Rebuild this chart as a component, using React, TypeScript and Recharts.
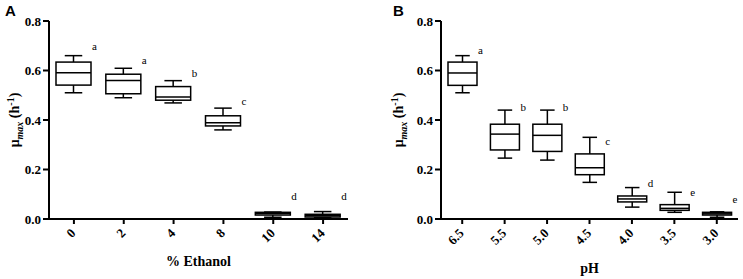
import { ComposedChart, Bar, XAxis, YAxis } from "recharts";

// panel A: growth rate vs ethanol
const ethanolCats = ["0", "2", "4", "8", "10", "14"];
const ethanolMin = [0.51, 0.49, 0.469, 0.36, 0.007, 0.006];
const ethanolQ1 = [0.541, 0.506, 0.48, 0.376, 0.016, 0.008];
const ethanolMed = [0.591, 0.56, 0.493, 0.389, 0.022, 0.013];
const ethanolQ3 = [0.634, 0.585, 0.535, 0.417, 0.027, 0.019];
const ethanolMax = [0.66, 0.609, 0.559, 0.448, 0.028, 0.03];
const ethanolLetters = ["a", "a", "b", "c", "d", "d"];
const ethanolLetterY = [0.699, 0.642, 0.591, 0.477, 0.093, 0.093];

// panel B: growth rate vs pH
const phCats = ["6.5", "5.5", "5.0", "4.5", "4.0", "3.5", "3.0"];
const phMin = [0.51, 0.246, 0.238, 0.148, 0.048, 0.027, 0.007];
const phQ1 = [0.54, 0.279, 0.273, 0.179, 0.069, 0.035, 0.016];
const phMed = [0.59, 0.343, 0.338, 0.207, 0.081, 0.043, 0.021];
const phQ3 = [0.634, 0.383, 0.383, 0.263, 0.093, 0.058, 0.027];
const phMax = [0.66, 0.44, 0.44, 0.33, 0.127, 0.108, 0.029];
const phLetters = ["a", "b", "b", "c", "d", "e", "e"];
const phLetterY = [0.683, 0.45, 0.45, 0.316, 0.145, 0.11, 0.081];

const yTicks = [0, 0.2, 0.4, 0.6, 0.8];

const SERIF = "'Liberation Serif', 'Times New Roman', serif";

const buildRows = (
  cats: string[],
  mins: number[],
  q1s: number[],
  meds: number[],
  q3s: number[],
  maxs: number[],
  letters: string[],
  letterYs: number[]
) =>
  cats.map((cat, i) => ({
    cat,
    min: mins[i],
    q1: q1s[i],
    med: meds[i],
    q3: q3s[i],
    max: maxs[i],
    letter: letters[i],
    letterY: letterYs[i],
  }));

const ethanolRows = buildRows(ethanolCats, ethanolMin, ethanolQ1, ethanolMed, ethanolQ3, ethanolMax, ethanolLetters, ethanolLetterY);
const phRows = buildRows(phCats, phMin, phQ1, phMed, phQ3, phMax, phLetters, phLetterY);

// the bar spans min..max, so its own height gives the value->pixel ratio
const BoxShape = (props: any) => {
  const { x, y, width, height, payload } = props;
  const { min, q1, med, q3, max, letter, letterY } = payload;
  const k = height / (max - min);
  const py = (v: number) => y + (max - v) * k;
  const cx = x + width / 2;
  const cap = width / 4;
  const st = { stroke: "#000", strokeWidth: 1.5 };
  return (
    <g>
      <line x1={cx} x2={cx} y1={py(max)} y2={py(q3)} {...st} />
      <line x1={cx} x2={cx} y1={py(q1)} y2={py(min)} {...st} />
      <line x1={cx - cap} x2={cx + cap} y1={py(max)} y2={py(max)} {...st} />
      <line x1={cx - cap} x2={cx + cap} y1={py(min)} y2={py(min)} {...st} />
      <rect x={x} y={py(q3)} width={width} height={py(q1) - py(q3)} fill="#fff" {...st} />
      <line x1={x} x2={x + width} y1={py(med)} y2={py(med)} {...st} />
      <text x={x + width + 1} y={py(letterY)} dy="0.35em" fontFamily={SERIF} fontSize={11} fill="#000">
        {letter}
      </text>
    </g>
  );
};

const SlantTick = (props: any) => {
  const { x, y, payload } = props;
  const tx = x + 2.5;
  const ty = y + 10;
  return (
    <text
      x={tx}
      y={ty}
      textAnchor="end"
      transform={`rotate(-45, ${tx}, ${ty})`}
      fontFamily={SERIF}
      fontWeight="bold"
      fontSize={13}
      fill="#000"
    >
      {payload.value}
    </text>
  );
};

const yLabel = (labelX: number) => (props: any) => {
  const vb = props.viewBox || { x: 0, y: 21, width: 0, height: 198 };
  const cx = vb.x + labelX;
  const cy = vb.y + vb.height / 2;
  return (
    <text
      x={cx}
      y={cy}
      textAnchor="middle"
      transform={`rotate(-90, ${cx}, ${cy})`}
      fontFamily={SERIF}
      fontWeight="bold"
      fontSize={14}
      fill="#000"
    >
      μ
      <tspan fontStyle="italic" fontSize={10} dy={4}>max</tspan>
      <tspan dy={-4}> (h</tspan>
      <tspan fontSize={10} dy={-5}>-1</tspan>
      <tspan dy={5}>)</tspan>
    </text>
  );
};

const xLabel = (text: string, offset: number) => (props: any) => {
  const vb = props.viewBox || { x: 0, y: 219, width: 300, height: 60 };
  return (
    <text
      x={vb.x + vb.width / 2}
      y={vb.y + offset}
      textAnchor="middle"
      fontFamily={SERIF}
      fontWeight="bold"
      fontSize={14}
      fill="#000"
    >
      {text}
    </text>
  );
};

const BoxPanel = ({ rows, width, yWidth, right, barSize, xTitle, xTitleOffset, yTitleX }: any) => (
  <ComposedChart
    width={width}
    height={279}
    data={rows}
    margin={{ top: 21, right, left: 0, bottom: 0 }}
  >
    <XAxis
      dataKey="cat"
      height={60}
      tick={<SlantTick />}
      interval={0}
      axisLine={{ stroke: "#000", strokeWidth: 2 }}
      tickLine={{ stroke: "#000", strokeWidth: 2 }}
      tickSize={5}
      tickMargin={0}
      label={{ content: xLabel(xTitle, xTitleOffset) }}
    />
    <YAxis
      width={yWidth}
      domain={[0, 0.8]}
      ticks={yTicks}
      tickFormatter={(v: number) => v.toFixed(1)}
      tick={{ fill: "#000", fontFamily: SERIF, fontWeight: "bold", fontSize: 13 }}
      axisLine={{ stroke: "#000", strokeWidth: 2 }}
      tickLine={{ stroke: "#000", strokeWidth: 2 }}
      tickSize={6}
      tickMargin={2}
      label={{ content: yLabel(yTitleX) }}
    />
    <Bar
      dataKey={(d: any) => [d.min, d.max]}
      barSize={barSize}
      shape={<BoxShape />}
      isAnimationActive={false}
    />
  </ComposedChart>
);

const panelTitle = {
  position: "absolute" as const,
  top: 3,
  fontFamily: "'Liberation Sans', Arial, sans-serif",
  fontWeight: "bold" as const,
  fontSize: 15,
  lineHeight: "15px",
};

export default function App() {
  return (
    <div style={{ position: "absolute", left: 0, top: 0, width: 743, height: 279, background: "#fff" }}>
      <div style={{ position: "absolute", left: 0, top: 0 }}>
        <BoxPanel
          rows={ethanolRows}
          width={370}
          yWidth={49}
          right={22}
          barSize={35}
          xTitle="% Ethanol"
          xTitleOffset={47}
          yTitleX={19}
        />
      </div>
      <div style={{ position: "absolute", left: 370, top: 0 }}>
        <BoxPanel
          rows={phRows}
          width={373}
          yWidth={71}
          right={5}
          barSize={29}
          xTitle="pH"
          xTitleOffset={54}
          yTitleX={33}
        />
      </div>
      <div style={{ ...panelTitle, left: 5 }}>A</div>
      <div style={{ ...panelTitle, left: 393 }}>B</div>
    </div>
  );
}
